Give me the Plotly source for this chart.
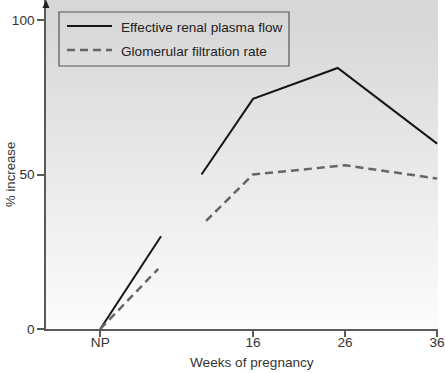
import plotly.graph_objects as go

# ---- data ----
np_pos = -0.6  # position of the "NP" (non-pregnant) point on the weeks axis
tick_vals = [np_pos, 16, 26, 36]
tick_text = ["NP", "16", "26", "36"]

erpf_weeks = [np_pos, 6.0, None, 10.4, 16, 25.2, 36]
erpf_increase = [0, 30, None, 50, 74.5, 84.5, 60]

gfr_weeks = [np_pos, 5.7, None, 10.9, 16, 26, 36]
gfr_increase = [0, 19.5, None, 35, 50, 53, 48.7]

y_ticks = [0, 50, 100]

# ---- layout geometry ----
W, H = 445, 373
ML, MR, MT, MB = 46, 7, 0, 44
PW, PH = W - ML - MR, H - MT - MB

def px(x):
    return (x - ML) / PW

def py(y):
    return (H - MB - y) / PH

FONT = "'Liberation Sans', Arial, Helvetica, sans-serif"
AXC = "#5a5a5a"
FS = 13.6

fig = go.Figure()
fig.add_trace(go.Scatter(x=erpf_weeks, y=erpf_increase, mode="lines",
                         line=dict(color="#161616", width=2),
                         name="Effective renal plasma flow", connectgaps=False,
                         showlegend=False))
fig.add_trace(go.Scatter(x=gfr_weeks, y=gfr_increase, mode="lines",
                         line=dict(color="#666666", width=2.5, dash="8px,5px"),
                         name="Glomerular filtration rate", connectgaps=False,
                         showlegend=False))

shapes = []
# vertical gradient background
n = 90
top_c, bot_c = 215, 252
for i in range(n):
    y0 = i / n
    y1 = (i + 1) / n
    t = (i + 0.5) / n  # 0 bottom -> 1 top
    c = round(bot_c + (top_c - bot_c) * min(1.0, t * 1.05))
    shapes.append(dict(type="rect", xref="paper", yref="paper", x0=0, x1=1,
                       y0=y0, y1=y1 + 0.002, fillcolor=f"rgb({c},{c},{c})",
                       line=dict(width=0), layer="below"))

# arrow head on top of y axis
shapes.append(dict(type="path", xref="paper", yref="paper", xsizemode="pixel",
                   ysizemode="pixel", xanchor=0, yanchor=1,
                   path="M -3.5,-8 L 0,0 L 3.5,-8 Z", fillcolor="#222",
                   line=dict(width=0)))

# legend box
shapes.append(dict(type="rect", xref="paper", yref="paper", x0=px(59), x1=px(289),
                   y0=py(66), y1=py(12), line=dict(color="#555", width=1.2),
                   fillcolor="rgba(0,0,0,0)"))
shapes.append(dict(type="line", xref="paper", yref="paper", x0=px(67), x1=px(112),
                   y0=py(26), y1=py(26), line=dict(color="#161616", width=2)))
shapes.append(dict(type="line", xref="paper", yref="paper", x0=px(67), x1=px(112),
                   y0=py(50), y1=py(50),
                   line=dict(color="#666666", width=2.5, dash="8px,5px")))

annotations = [
    dict(text="Effective renal plasma flow", xref="paper", yref="paper",
         x=px(119), y=py(27), xanchor="left", yanchor="middle", showarrow=False,
         font=dict(family=FONT, size=FS, color="#222")),
    dict(text="Glomerular filtration rate", xref="paper", yref="paper",
         x=px(119), y=py(51), xanchor="left", yanchor="middle", showarrow=False,
         font=dict(family=FONT, size=FS, color="#222")),
    dict(text="Weeks of pregnancy", xref="paper", yref="paper",
         x=px(252), y=py(362), xanchor="center", yanchor="middle", showarrow=False,
         font=dict(family=FONT, size=FS, color="#333")),
    dict(text="% increase", xref="paper", yref="paper", textangle=-90,
         x=px(10), y=py(175), xanchor="center", yanchor="middle", showarrow=False,
         font=dict(family=FONT, size=13.2, color="#333")),
]

fig.update_layout(
    width=W, height=H,
    margin=dict(l=ML, r=MR, t=MT, b=MB),
    paper_bgcolor="white", plot_bgcolor="white",
    shapes=shapes, annotations=annotations,
    font=dict(family=FONT, size=FS, color="#333"),
    showlegend=False,
)
fig.update_xaxes(range=[-6.5, 36.1], tickvals=tick_vals, ticktext=tick_text,
                 showgrid=False, zeroline=False, showline=True, linecolor=AXC,
                 linewidth=1.5, ticks="outside", ticklen=6, tickcolor=AXC,
                 tickwidth=1.5, automargin=False, ticklabelstandoff=-6,
                 tickfont=dict(family=FONT, size=FS, color="#333"))
fig.update_yaxes(range=[0, 106.5], tickvals=y_ticks, showgrid=False, zeroline=False,
                 showline=True, linecolor=AXC, linewidth=1.5, ticks="outside",
                 ticklen=7, tickcolor=AXC, tickwidth=1.5, automargin=False,
                 tickfont=dict(family=FONT, size=FS, color="#333"))

fig.write_html("out.html", config={"displayModeBar": False},
               post_script="document.body.style.margin='0';document.body.style.overflow='hidden';")
